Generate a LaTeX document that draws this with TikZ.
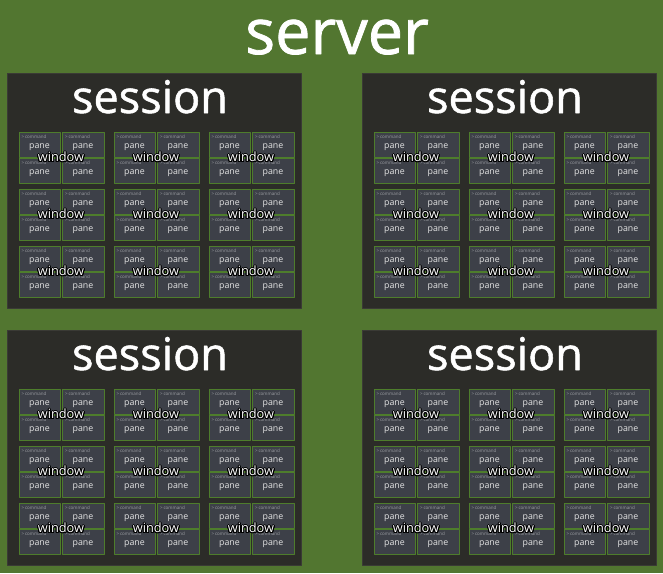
\documentclass[tikz,border=0pt]{standalone}
\usepackage{fontspec}
\setmainfont{Open Sans}
\newfontfamily\titlefont{Open Sans}[FakeBold=1.2]
\usepackage[copies]{contour}
\contourlength{0.9pt}
\contournumber{16}
\definecolor{bggreen}{HTML}{527630}
\definecolor{sessfill}{HTML}{2C2C28}
\definecolor{sessline}{HTML}{3A3A35}
\definecolor{panefill}{HTML}{3D4048}
\definecolor{paneline}{HTML}{4E7D2C}
\definecolor{cmdgray}{HTML}{9C9EA3}
\begin{document}
\begin{tikzpicture}[x=1pt,y=-1pt,line join=round]
	\tikzset{sessbox/.style={fill=sessfill,draw=sessline,line width=0.8pt,inner sep=0pt,
			minimum width=294pt,minimum height=235pt,anchor=north west},
		sesstitle/.style={text=white,anchor=base,font=\titlefont\fontsize{45}{45}\selectfont},
		panebox/.style={fill=panefill,draw=paneline,line width=1.1pt,inner sep=0pt,
			minimum width=41.5pt,minimum height=24.5pt,anchor=north west},
		panetext/.style={text=white!90!black,anchor=base,inner sep=0pt,font=\fontsize{8.8}{8.8}\selectfont},
		cmdtext/.style={text=cmdgray,anchor=west,inner sep=0pt,font=\fontsize{4.5}{4.5}\selectfont},
		wintext/.style={text=white,inner sep=0pt,font=\fontsize{12.8}{12.8}\selectfont}}
	\fill[bggreen] (0,0) rectangle (663,573);
	\useasboundingbox (0,0) rectangle (663,573);
	\node[text=white,anchor=base,font=\titlefont\fontsize{63}{63}\selectfont] (server) at (337,54) {server};
	\foreach \sx/\sy [count=\s] in {7/73,362/73,7/330,362/330}{
		\node[sessbox] (sess\s) at (\sx,\sy) {};
		\node[sesstitle] (title\s) at (\sx+143,\sy+40) {session};
		\foreach \i in {0,1,2}{
			\foreach \j in {0,1,2}{
				\pgfmathsetmacro{\wx}{\sx+11.5+95*\i}
				\pgfmathsetmacro{\wy}{\sy+59+57*\j}
				\foreach \c in {0,1}{
					\foreach \r in {0,1}{
						\pgfmathsetmacro{\px}{\wx+43.5*\c}
						\pgfmathsetmacro{\py}{\wy+26*\r}
						\node[panebox] (pane\s-\i-\j-\c-\r) at (\px,\py) {};
						\node[cmdtext] (cmd\s-\i-\j-\c-\r) at (\px+3,\py+4.5) {>\,command};
						\node[panetext] (lbl\s-\i-\j-\c-\r) at (\px+21,\py+16) {pane};
					}
				}
				\node[wintext] (win\s-\i-\j) at (\wx+42.5,\wy+25.5) {\contour{black}{window}};
			}
		}
	}
\end{tikzpicture}
\end{document}
